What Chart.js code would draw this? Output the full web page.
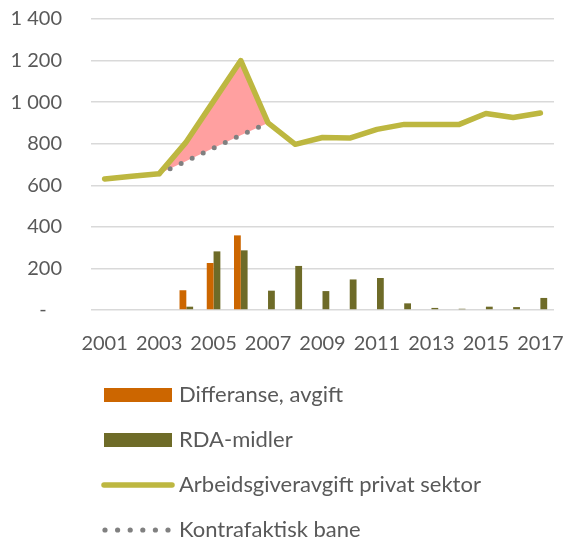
<!DOCTYPE html>
<html><head><meta charset="utf-8">
<script src="https://cdn.jsdelivr.net/npm/chart.js@4/dist/chart.umd.min.js"></script>
<style>html,body{margin:0;padding:0;background:#fff;}#wrap{width:565px;height:540px;}</style>
</head><body><div id="wrap"><canvas id="c" width="565" height="540"></canvas></div>
<script>
const years = ['2001','2002','2003','2004','2005','2006','2007','2008','2009','2010','2011','2012','2013','2014','2015','2016','2017'];
const xTickLabels = ['2001','','2003','','2005','','2007','','2009','','2011','','2013','','2015','','2017'];
const yTickLabels = ['-   ','200','400','600','800','1 000','1 200','1 400'];
const differanse = [null,null,null,95,226,359,null,null,null,null,null,null,null,null,null,null,null];
const rdaMidler = [null,null,null,16,282,287,93,212,91,147,154,32,10,6,16,14,58];
const arbeidsgiveravgift = [630,643,655,809,1005,1200,900,797,830,827,869,893,893,892,945,926,948];
const kontrafaktisk = [null,null,655,717,779,841,900,null,null,null,null,null,null,null,null,null,null];
const seriesNames = ['Differanse, avgift','RDA-midler','Arbeidsgiveravgift privat sektor','Kontrafaktisk bane'];

const textColor = '#595959';
const fontFamily = 'Lato, "Noto Sans", sans-serif';

const legendPlugin = {
  id: 'customLegend',
  afterDraw(chart) {
    const ctx = chart.ctx;
    const ds = chart.data.datasets;
    const x0 = 104, x1 = 172, tx = 179;
    const ys = [395, 440, 485, 530];
    ctx.save();
    ctx.font = '22px ' + fontFamily;
    ctx.textBaseline = 'middle';
    ds.forEach((d, i) => {
      const y = ys[i];
      if (i < 2) {
        ctx.fillStyle = d.backgroundColor;
        ctx.fillRect(x0, y - 7, x1 - x0, 14);
      } else if (i === 2) {
        ctx.strokeStyle = d.borderColor;
        ctx.lineWidth = 5.5;
        ctx.lineCap = 'round';
        ctx.beginPath(); ctx.moveTo(x0, y); ctx.lineTo(x1, y); ctx.stroke();
      } else {
        ctx.fillStyle = d.borderColor;
        for (let k = 0; k < 6; k++) {
          ctx.beginPath(); ctx.arc(x0 + 1 + k * 12.6, y, 2.6, 0, Math.PI * 2); ctx.fill();
        }
      }
      ctx.fillStyle = textColor;
      ctx.fillText(d.label, tx, y);
    });
    ctx.restore();
  }
};

new Chart(document.getElementById('c'), {
  type: 'bar',
  data: {
    labels: years,
    datasets: [
      { type: 'bar', label: seriesNames[0], data: differanse, backgroundColor: '#CC6600', categoryPercentage: 0.5, barPercentage: 1.0, order: 0 },
      { type: 'bar', label: seriesNames[1], data: rdaMidler, backgroundColor: '#6E6B28', categoryPercentage: 0.5, barPercentage: 1.0, order: 0 },
      { type: 'line', label: seriesNames[2], data: arbeidsgiveravgift, borderColor: '#BDB740', borderWidth: 5.5, pointRadius: 0, fill: false, tension: 0, borderCapStyle: 'round', borderJoinStyle: 'round', order: 1 },
      { type: 'line', label: seriesNames[3], data: kontrafaktisk, borderColor: '#808080', borderWidth: 5, borderDash: [0, 12.2], borderCapStyle: 'round', pointRadius: 0, tension: 0, spanGaps: false,
        fill: { target: 2, above: 'rgba(255,160,160,1)', below: 'rgba(255,160,160,1)' }, order: 2 }
    ]
  },
  options: {
    responsive: false,
    animation: false,
    devicePixelRatio: 1,
    layout: { padding: { top: 19, right: 11, bottom: 170, left: 0 } },
    plugins: { legend: { display: false }, tooltip: { enabled: false }, filler: { propagate: false } },
    scales: {
      x: {
        grid: { display: false },
        border: { display: false },
        ticks: { autoSkip: false, maxRotation: 0, padding: 14, color: textColor, font: { family: fontFamily, size: 20 },
          callback: (v, i) => xTickLabels[i] },
        afterFit: s => { s.height = 60; s.paddingLeft = 0; s.paddingRight = 0; }
      },
      y: {
        min: 0, max: 1400,
        grid: { color: '#D9D9D9', lineWidth: 1.5, drawTicks: false },
        border: { display: false },
        ticks: { stepSize: 200, padding: 29, color: textColor, font: { family: fontFamily, size: 20 },
          callback: v => yTickLabels[Math.round(v / 200)] },
        afterFit: s => { s.width = 91; s.paddingTop = 0; s.paddingBottom = 0; }
      }
    }
  },
  plugins: [legendPlugin]
});
</script>
</body></html>
